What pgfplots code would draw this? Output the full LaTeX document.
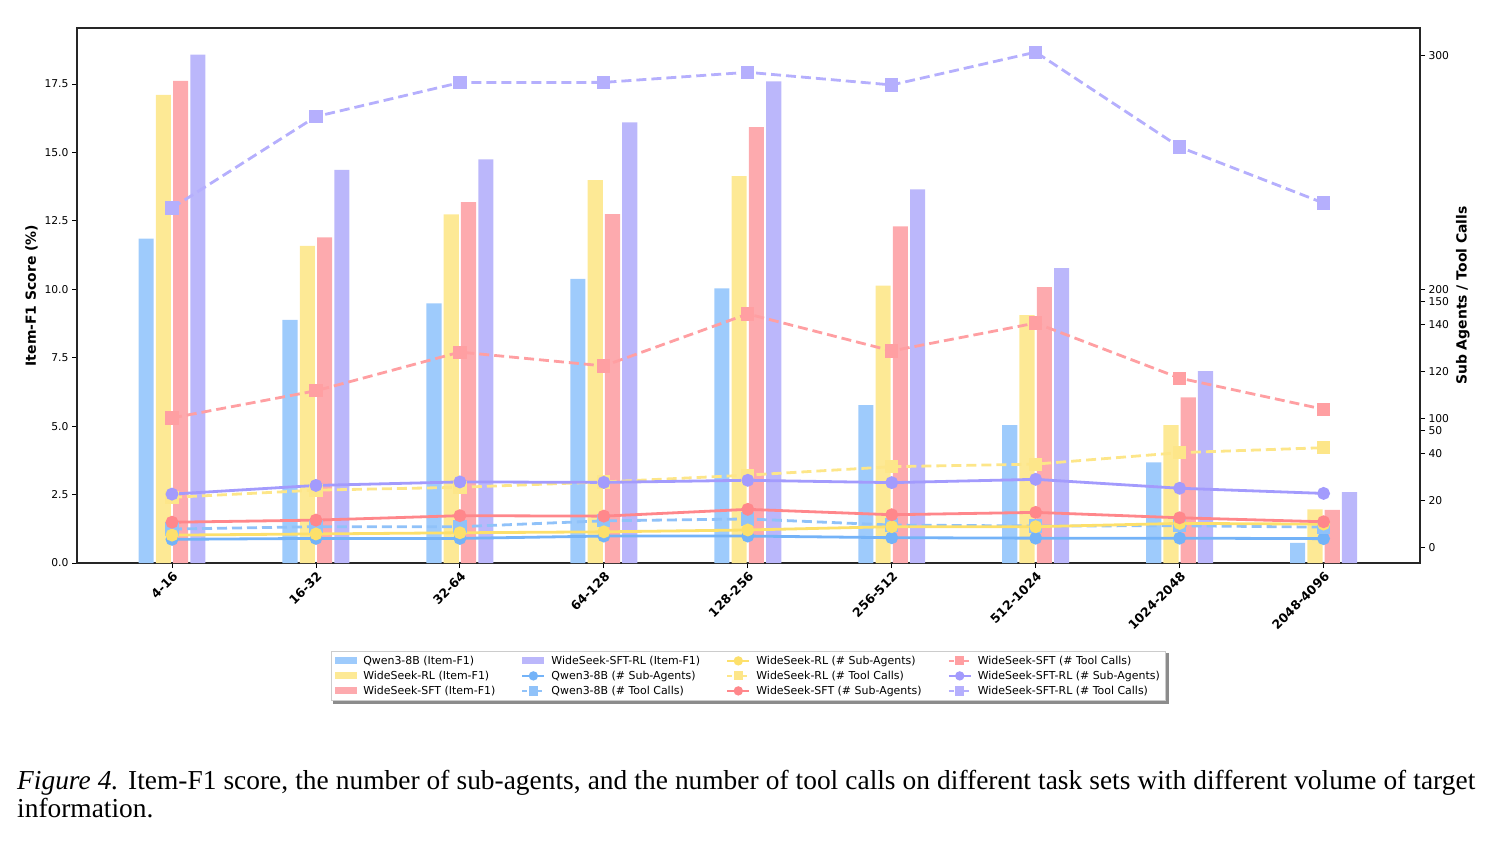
\documentclass[border=0pt]{standalone}
\usepackage{fontspec}
\setmainfont{DejaVu Sans}
\newfontfamily\capfont{Liberation Serif}
\usepackage{pgfplots}
\usepackage{pgfplotstable}
\pgfplotsset{compat=1.18}
\usetikzlibrary{backgrounds}

\definecolor{qbar}{HTML}{9ECBFC}
\definecolor{rbar}{HTML}{FDE995}
\definecolor{sbar}{HTML}{FDAAAE}
\definecolor{pbar}{HTML}{BBB7FB}
\definecolor{qline}{HTML}{74B3F8}
\definecolor{rline}{HTML}{FDE06B}
\definecolor{sline}{HTML}{FF878B}
\definecolor{pline}{HTML}{A39BFD}
\colorlet{qdash}{qline!80!white}
\colorlet{rdash}{rline!80!white}
\colorlet{sdash}{sline!80!white}
\colorlet{pdash}{pline!80!white}

\pgfplotstableread{
x q r s p
0 11.85 17.11 17.62 18.58
1 8.88 11.59 11.90 14.37
2 9.49 12.74 13.19 14.75
3 10.38 13.99 12.75 16.10
4 10.04 14.14 15.93 17.60
5 5.77 10.14 12.30 13.65
6 5.04 9.06 10.08 10.78
7 3.68 5.04 6.05 7.01
8 0.74 1.96 1.94 2.59
}\ftable

\pgfplotstableread{
x qs qt rs rt ss st ps pt
0 3.5 7.9 5.3 21.4 10.8 100.3 22.8 234.9
1 3.9 8.9 5.8 24.5 11.7 111.9 26.5 273.9
2 3.9 8.9 6.3 25.7 13.6 128.4 28.0 288.4
3 4.9 11.4 6.7 28.0 13.4 122.5 27.8 288.5
4 4.9 12.2 7.5 30.9 16.3 144.7 28.7 292.8
5 4.2 9.6 8.9 34.5 14.0 128.9 27.7 287.4
6 4.0 9.2 8.9 35.6 15.0 140.8 29.1 301.4
7 4.0 9.3 10.3 40.5 12.7 117.3 25.3 260.9
8 3.8 8.7 10.0 42.6 11.0 104.0 23.1 237.0
}\ltable

\pgfplotsset{
  solidline/.style={line width=2.8bp, solid, mark=*, mark size=5bp, mark options={solid}},
  dashline/.style={line width=2.8bp, dash pattern=on 10bp off 5bp, mark=square*, mark size=5.2bp, mark options={solid}},
  barleg/.style={legend image code/.code={\fill[##1, draw=none] (0bp,-3.5bp) rectangle (22bp,3.5bp);}},
  lineleg/.style={legend image code/.code={\draw[mark repeat=2,mark phase=2,##1] plot coordinates {(0bp,0bp) (11bp,0bp) (22bp,0bp)};}},
}

\begin{document}
\begin{tikzpicture}
\path[use as bounding box] (0,0) rectangle (1491bp,-841bp);
\begin{axis}[
  at={(77bp,-563bp)}, anchor=south west,
  scale only axis, width=1343bp, height=535bp,
  xmin=-0.66, xmax=8.67, ymin=0, ymax=19.55,
  xtick={0,1,2,3,4,5,6,7,8},
  xticklabels={4-16,16-32,32-64,64-128,128-256,256-512,512-1024,1024-2048,2048-4096},
  xtick pos=lower, ytick pos=left,
  ytick={0,2.5,5,7.5,10,12.5,15,17.5},
  yticklabel style={/pgf/number format/.cd, fixed, fixed zerofill, precision=1},
  /pgf/number format/assume math mode=true,
  tick align=outside, major tick length=5bp,
  tick style={black, line width=0.9bp},
  axis line style={black!85, line width=1.1bp},
  tick label style={font=\fontsize{10.8}{12}\selectfont},
  xticklabel style={rotate=45, anchor=north east, font=\fontsize{12.5}{14}\selectfont\bfseries, inner sep=2bp},
  ylabel={\bfseries Item-F1 Score (\%)},
  ylabel style={font=\fontsize{14}{16}\selectfont},
]
\addplot[ybar, bar width=0.105, bar shift=-0.18, fill=qbar, draw=none] table[x=x,y=q] {\ftable};
\addplot[ybar, bar width=0.105, bar shift=-0.06, fill=rbar, draw=none] table[x=x,y=r] {\ftable};
\addplot[ybar, bar width=0.105, bar shift=0.06, fill=sbar, draw=none] table[x=x,y=s] {\ftable};
\addplot[ybar, bar width=0.105, bar shift=0.18, fill=pbar, draw=none] table[x=x,y=p] {\ftable};
\end{axis}

\begin{axis}[
  at={(77bp,-563bp)}, anchor=south west,
  scale only axis, width=1343bp, height=535bp,
  xmin=-0.66, xmax=8.67, ymin=-6.6, ymax=221.7,
  axis x line=none, axis y line*=right,
  ytick={0,20,40,50,55,75,95,105,110,210},
  yticklabels={0,20,40,50,100,120,140,150,200,300},
  /pgf/number format/assume math mode=true,
  tick align=outside, major tick length=5bp,
  tick style={black, line width=0.9bp},
  axis line style={black!85, line width=1.1bp},
  tick label style={font=\fontsize{10.8}{12}\selectfont},
  ylabel={\bfseries Sub Agents / Tool Calls},
  ylabel style={font=\fontsize{14}{16}\selectfont},
  y filter/.expression={y<=75 ? y : (y<=175 ? y-45 : y-90)},
  legend columns=4,
  legend cell align=left,
  legend style={at={(0.5,-0.211)}, anchor=center, name=leg,
    font=\fontsize{11}{13}\selectfont,
    draw=black!20, fill=white, line width=0.8bp,
    inner xsep=4bp, inner ysep=3bp,
    /tikz/every even column/.append style={column sep=24bp},
    /tikz/every odd column/.append style={column sep=4bp},
    row sep=1.2bp},
]
\addplot[solidline, color=qline, forget plot] table[x=x,y=qs] {\ltable};
\addplot[dashline, color=qdash, forget plot] table[x=x,y=qt] {\ltable};
\addplot[solidline, color=rline, forget plot] table[x=x,y=rs] {\ltable};
\addplot[dashline, color=rdash, forget plot] table[x=x,y=rt] {\ltable};
\addplot[solidline, color=sline, forget plot] table[x=x,y=ss] {\ltable};
\addplot[dashline, color=sdash, forget plot] table[x=x,y=st] {\ltable};
\addplot[solidline, color=pline, forget plot] table[x=x,y=ps] {\ltable};
\addplot[dashline, color=pdash, forget plot] table[x=x,y=pt] {\ltable};

% legend, row-major order reproducing column-major layout
\addlegendimage{barleg, fill=qbar}
\addlegendentry{Qwen3-8B (Item-F1)}
\addlegendimage{barleg, fill=pbar}
\addlegendentry{WideSeek-SFT-RL (Item-F1)}
\addlegendimage{lineleg, solidline, color=rline, line width=2.2bp, mark size=3.5bp}
\addlegendentry{WideSeek-RL (\# Sub-Agents)}
\addlegendimage{lineleg, dashline, color=sdash, line width=2.2bp, mark size=3.5bp, dash pattern=on 5bp off 2.5bp}
\addlegendentry{WideSeek-SFT (\# Tool Calls)}

\addlegendimage{barleg, fill=rbar}
\addlegendentry{WideSeek-RL (Item-F1)}
\addlegendimage{lineleg, solidline, color=qline, line width=2.2bp, mark size=3.5bp}
\addlegendentry{Qwen3-8B (\# Sub-Agents)}
\addlegendimage{lineleg, dashline, color=rdash, line width=2.2bp, mark size=3.5bp, dash pattern=on 5bp off 2.5bp}
\addlegendentry{WideSeek-RL (\# Tool Calls)}
\addlegendimage{lineleg, solidline, color=pline, line width=2.2bp, mark size=3.5bp}
\addlegendentry{WideSeek-SFT-RL (\# Sub-Agents)}

\addlegendimage{barleg, fill=sbar}
\addlegendentry{WideSeek-SFT (Item-F1)}
\addlegendimage{lineleg, dashline, color=qdash, line width=2.2bp, mark size=3.5bp, dash pattern=on 5bp off 2.5bp}
\addlegendentry{Qwen3-8B (\# Tool Calls)}
\addlegendimage{lineleg, solidline, color=sline, line width=2.2bp, mark size=3.5bp}
\addlegendentry{WideSeek-SFT (\# Sub-Agents)}
\addlegendimage{lineleg, dashline, color=pdash, line width=2.2bp, mark size=3.5bp, dash pattern=on 5bp off 2.5bp}
\addlegendentry{WideSeek-SFT-RL (\# Tool Calls)}
\end{axis}

\begin{scope}[on background layer]
\fill[black!45] ([shift={(2.5bp,-2.5bp)}]leg.south west) rectangle ([shift={(2.5bp,-2.5bp)}]leg.north east);
\end{scope}

\node[anchor=base west, inner sep=0pt, font=\capfont\fontsize{27.5}{32}\selectfont] at (17bp,-789bp)
  {\makebox[1458bp][s]{\textit{Figure 4.} Item-F1 score, the number of sub-agents, and the number of tool calls on different task sets with different volume of target}};
\node[anchor=base west, inner sep=0pt, font=\capfont\fontsize{27.5}{32}\selectfont] at (17bp,-817bp)
  {information.};
\end{tikzpicture}
\end{document}
